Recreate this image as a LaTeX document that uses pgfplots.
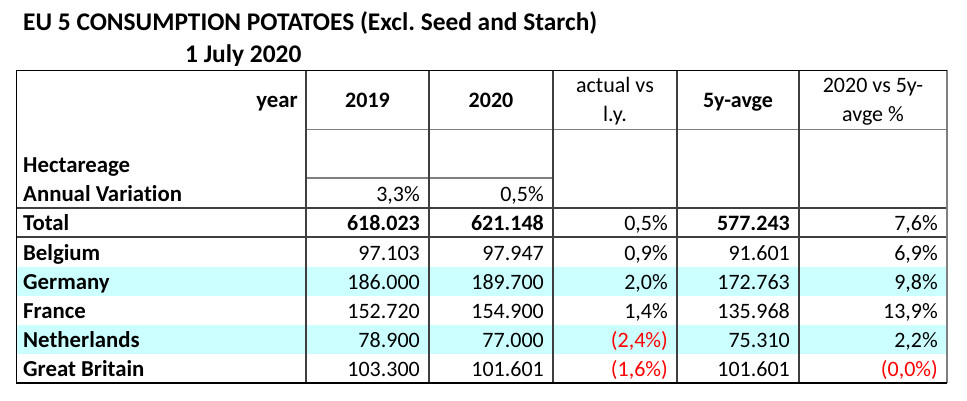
\documentclass[border=0pt]{standalone}
\usepackage{pgfplots}
\usepackage{pgfplotstable}
\pgfplotsset{compat=1.18}
\usepackage{fontspec}
\setmainfont{Carlito}[Ligatures={NoCommon}]
\frenchspacing
\definecolor{rowcyan}{HTML}{CCFFFF}
\definecolor{negred}{HTML}{FF0000}
\definecolor{gridgray}{HTML}{7F7F7F}
\definecolor{griddark}{HTML}{3F3F3F}
\newcommand\bodyfont{\fontsize{22}{26}\selectfont}
\newcommand\labelfont{\fontsize{22.8}{27}\selectfont\bfseries}
\newcommand\titlefont{\fontsize{25.4}{30}\selectfont\bfseries}

\pgfplotstableread[col sep=semicolon]{
x;y;lab
23;172;Hectareage
23;201;Annual Variation
23;230;Total
23;260;Belgium
23;289;Germany
23;318;France
23;347;Netherlands
23;376;Great Britain
}\rowlabels

\pgfplotstableread[col sep=semicolon]{
x;y;lab
420;201;3,3\%
420;230;\textbf{618.023}
420;260;97.103
420;289;186.000
420;318;152.720
420;347;78.900
420;376;103.300
}\colA

\pgfplotstableread[col sep=semicolon]{
x;y;lab
544;201;0,5\%
544;230;\textbf{621.148}
544;260;97.947
544;289;189.700
544;318;154.900
544;347;77.000
544;376;101.601
}\colB

\pgfplotstableread[col sep=semicolon]{
x;y;lab
668;230;0,5\%
668;260;0,9\%
668;289;2,0\%
668;318;1,4\%
668;347;\textcolor{negred}{(2,4\%)}
668;376;\textcolor{negred}{(1,6\%)}
}\colC

\pgfplotstableread[col sep=semicolon]{
x;y;lab
790;230;\textbf{577.243}
790;260;91.601
790;289;172.763
790;318;135.968
790;347;75.310
790;376;101.601
}\colD

\pgfplotstableread[col sep=semicolon]{
x;y;lab
938;230;7,6\%
938;260;6,9\%
938;289;9,8\%
938;318;13,9\%
938;347;2,2\%
938;376;\textcolor{negred}{(0,0\%)}
}\colE

\begin{document}
\begin{tikzpicture}
\begin{axis}[
  scale only axis, width=967pt, height=401pt,
  xmin=0, xmax=967, ymin=0, ymax=401, y dir=reverse,
  hide axis, clip=false,
  nodes near coords, point meta=explicit symbolic,
  every node near coord/.append style={anchor=base east, inner sep=0pt, font=\bodyfont, text=black},
]
% bounding box
\path (axis cs:0,0) rectangle (axis cs:967,401);
% cyan bands
\fill[rowcyan] (axis cs:16.5,267) rectangle (axis cs:947,296);
\fill[rowcyan] (axis cs:16.5,325) rectangle (axis cs:947,354);
% horizontal lines
\draw[gridgray, line width=1.8pt] (axis cs:306,129.5) -- (axis cs:947,129.5);
\draw[gridgray, line width=1.8pt] (axis cs:306,178) -- (axis cs:553,178);
\draw[griddark, line width=1.8pt] (axis cs:16.5,208) -- (axis cs:947,208);
\draw[griddark, line width=1.8pt] (axis cs:16.5,237) -- (axis cs:947,237);
% vertical lines
\draw[griddark, line width=1.6pt] (axis cs:306,70.5) -- (axis cs:306,383);
\draw[griddark, line width=1.6pt] (axis cs:429,70.5) -- (axis cs:429,383);
\draw[griddark, line width=1.6pt] (axis cs:553,70.5) -- (axis cs:553,383);
\draw[griddark, line width=1.6pt] (axis cs:677,70.5) -- (axis cs:677,383);
\draw[griddark, line width=1.6pt] (axis cs:799,70.5) -- (axis cs:799,383);
% outer border
\draw[gridgray, line width=1.8pt] (axis cs:947,70.5) -- (axis cs:947,383);
\draw[black, line width=1.8pt] (axis cs:947,383) -- (axis cs:16.5,383) -- (axis cs:16.5,70.5) -- (axis cs:947,70.5);
% titles
\node[anchor=base west, inner sep=0pt, font=\titlefont] at (axis cs:23,31) {EU 5 CONSUMPTION POTATOES (Excl. Seed and Starch)};
\node[anchor=base west, inner sep=0pt, font=\titlefont] at (axis cs:185,63) {1 July 2020};
% header
\node[anchor=base east, inner sep=0pt, font=\labelfont] at (axis cs:298,108) {year};
\node[anchor=base, inner sep=0pt, font=\bodyfont\bfseries] at (axis cs:367.5,108) {2019};
\node[anchor=base, inner sep=0pt, font=\bodyfont\bfseries] at (axis cs:491,108) {2020};
\node[anchor=base, inner sep=0pt, font=\bodyfont] at (axis cs:615,93) {actual vs};
\node[anchor=base, inner sep=0pt, font=\bodyfont] at (axis cs:615,122) {l.y.};
\node[anchor=base, inner sep=0pt, font=\bodyfont\bfseries] at (axis cs:738,108) {5y-avge};
\node[anchor=base, inner sep=0pt, font=\bodyfont] at (axis cs:873,93) {2020 vs 5y-};
\node[anchor=base, inner sep=0pt, font=\bodyfont] at (axis cs:873,122) {avge \%};
% data
\addplot[only marks, mark=none, nodes near coords style={anchor=base west, font=\labelfont}] table[x=x, y=y, meta=lab] {\rowlabels};
\addplot[only marks, mark=none] table[x=x, y=y, meta=lab] {\colA};
\addplot[only marks, mark=none] table[x=x, y=y, meta=lab] {\colB};
\addplot[only marks, mark=none] table[x=x, y=y, meta=lab] {\colC};
\addplot[only marks, mark=none] table[x=x, y=y, meta=lab] {\colD};
\addplot[only marks, mark=none] table[x=x, y=y, meta=lab] {\colE};
\end{axis}
\end{tikzpicture}
\end{document}
